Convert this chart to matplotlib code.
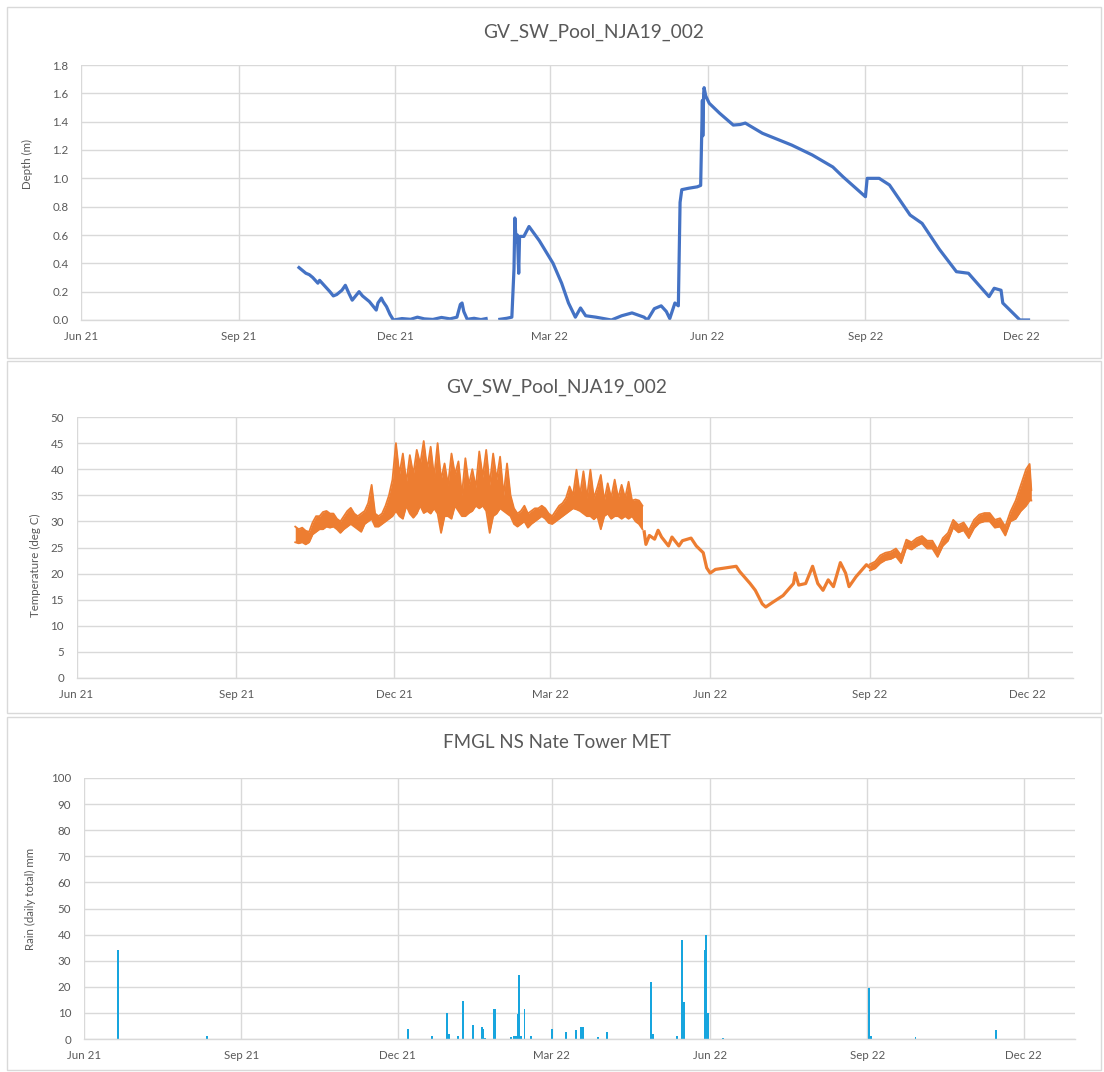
import matplotlib
matplotlib.use("Agg")
import matplotlib.pyplot as plt
import matplotlib.dates as mdates
from matplotlib.patches import Rectangle
from matplotlib.ticker import FuncFormatter
import numpy as np
import pandas as pd

plt.rcParams["font.family"] = ["Lato", "DejaVu Sans"]

# ---------------------------------------------------------------- data
pool_title = "GV_SW_Pool_NJA19_002"
rain_title = "FMGL NS Nate Tower MET"

# Pool depth (m)
depth_dates = [
    "2021-10-06", "2021-10-08", "2021-10-10", "2021-10-12", "2021-10-14", "2021-10-17",
    "2021-10-18", "2021-10-21", "2021-10-24", "2021-10-26", "2021-10-28", "2021-10-31",
    "2021-11-02", "2021-11-04", "2021-11-06", "2021-11-08", "2021-11-10", "2021-11-12",
    "2021-11-14", "2021-11-16", "2021-11-18", "2021-11-20", "2021-11-21", "2021-11-23",
    "2021-11-24", "2021-11-26", "2021-11-28", "2021-11-30", "2021-12-05", "2021-12-10",
    "2021-12-14", "2021-12-18", "2021-12-23", "2021-12-28", "2022-01-02", "2022-01-06",
    "2022-01-08", "2022-01-09", "2022-01-10", "2022-01-12", "2022-01-16", "2022-01-20",
    "2022-01-23", "2022-01-26", "2022-01-31", "2022-02-04", "2022-02-07",
    "2022-02-08 06:00", "2022-02-08 18:00", "2022-02-09 12:00", "2022-02-10 06:00",
    "2022-02-11 00:00", "2022-02-11 12:00", "2022-02-14", "2022-02-17", "2022-02-23",
    "2022-03-03", "2022-03-08", "2022-03-12", "2022-03-16", "2022-03-19", "2022-03-22",
    "2022-03-28", "2022-04-06", "2022-04-12", "2022-04-18", "2022-04-25", "2022-04-27",
    "2022-05-01", "2022-05-05", "2022-05-08", "2022-05-10", "2022-05-13", "2022-05-15",
    "2022-05-16", "2022-05-17", "2022-05-21", "2022-05-26", "2022-05-28",
    "2022-05-29 00:00", "2022-05-29 06:00", "2022-05-29 18:00", "2022-05-30",
    "2022-05-31", "2022-06-02", "2022-06-08", "2022-06-16", "2022-06-20", "2022-06-23",
    "2022-07-03", "2022-07-20", "2022-08-01", "2022-08-13", "2022-08-19", "2022-09-01",
    "2022-09-02", "2022-09-09", "2022-09-15", "2022-09-27", "2022-10-04", "2022-10-14",
    "2022-10-24", "2022-10-31", "2022-11-06", "2022-11-12", "2022-11-15", "2022-11-19",
    "2022-11-20", "2022-11-30", "2022-12-05",
]
depth_values = [
    0.37, 0.35, 0.33, 0.32, 0.30, 0.26,
    0.28, 0.24, 0.20, 0.17, 0.18, 0.21,
    0.245, 0.19, 0.14, 0.17, 0.20, 0.17,
    0.15, 0.13, 0.10, 0.07, 0.12, 0.155,
    0.13, 0.094, 0.04, 0.0, 0.01, 0.005,
    0.02, 0.008, 0.004, 0.018, 0.008, 0.02,
    0.11, 0.12, 0.06, 0.005, 0.012, 0.003,
    0.01, np.nan, 0.005, 0.012, 0.02,
    0.36, 0.72, 0.55, 0.60,
    0.33, 0.59, 0.59, 0.66, 0.56,
    0.40, 0.26, 0.12, 0.02, 0.085, 0.03,
    0.02, 0.0, 0.03, 0.05, 0.02, 0.0,
    0.08, 0.10, 0.06, 0.01, 0.12, 0.10,
    0.83, 0.92, 0.93, 0.94, 0.95,
    1.55, 1.30, 1.60, 1.64,
    1.58, 1.53, 1.46, 1.376, 1.38, 1.39,
    1.318, 1.235, 1.165, 1.08, 1.01, 0.87,
    1.0, 1.0, 0.953, 0.741, 0.682, 0.50,
    0.341, 0.33, 0.247, 0.165, 0.224, 0.21,
    0.12, 0.0, 0.0,
]

# Pool water temperature (deg C).
# Summer 2021-22: daily low / high every second day from 5 Oct 2021
temp_summer_start = "2021-10-05"
temp_summer_low = [
    26.0, 25.8, 26.0, 25.6, 26.0, 27.5, 28.0, 28.5, 28.5, 29.0, 28.8, 29.0, 28.5, 27.8,
    28.5, 29.0, 29.5, 29.0, 28.5, 28.0, 29.5, 30.0, 30.5, 29.0, 29.0, 29.5, 30.0, 30.5,
    31.0, 32.0, 31.0, 30.5, 33.0, 31.5, 30.7, 31.5, 33.0, 31.6, 32.0, 31.5, 32.5, 31.5,
    27.8, 31.0, 31.0, 30.5, 33.0, 32.0, 31.0, 31.0, 31.6, 32.0, 33.0, 32.5, 33.0, 32.0,
    27.8, 31.0, 31.5, 32.5, 32.0, 31.5, 31.0, 29.5, 29.0, 29.5, 30.0, 28.8, 29.5, 30.0,
    30.5, 31.0, 30.5, 29.7, 29.5, 30.0, 30.5, 31.0, 31.5, 32.0, 32.5, 32.3, 32.0, 31.5,
    31.0, 31.0, 30.4, 31.0, 28.5, 31.0, 31.5, 30.5, 31.0, 31.0, 30.5, 31.0, 30.5, 31.0,
    30.0, 29.5, 28.5,
]
temp_summer_high = [
    29.0, 28.5, 28.8, 28.2, 28.0, 29.8, 31.0, 31.0, 31.8, 32.0, 31.5, 31.5, 30.5, 30.0,
    31.0, 32.0, 32.6, 31.5, 31.0, 31.5, 32.0, 33.5, 37.0, 31.5, 31.0, 31.5, 33.0, 35.0,
    38.0, 45.0, 39.0, 43.0, 37.5, 42.7, 39.0, 43.7, 41.0, 45.4, 40.0, 44.3, 38.5, 45.0,
    38.0, 41.1, 37.0, 43.0, 39.0, 41.5, 35.0, 42.1, 37.0, 40.0, 36.5, 43.4, 38.5, 43.7,
    37.0, 43.0, 38.0, 42.4, 35.0, 41.1, 35.0, 32.5, 31.5, 32.0, 33.0, 31.5, 32.0, 32.5,
    32.5, 33.0, 32.5, 31.5, 31.0, 32.0, 33.0, 33.5, 34.5, 36.7, 35.0, 39.9, 35.0, 39.6,
    34.5, 39.9, 34.5, 36.5, 38.9, 34.0, 37.3, 34.5, 38.0, 34.5, 37.0, 34.5, 37.6, 34.0,
    34.2, 34.0, 33.0,
]

# Winter 2022: single trace
temp_winter_dates = [
    "2022-04-24", "2022-04-25", "2022-04-27", "2022-04-30", "2022-05-02", "2022-05-04",
    "2022-05-08", "2022-05-10", "2022-05-14", "2022-05-16", "2022-05-21", "2022-05-24",
    "2022-05-28", "2022-05-30", "2022-06-01", "2022-06-04", "2022-06-10", "2022-06-16",
    "2022-06-18", "2022-06-24", "2022-06-27", "2022-07-01", "2022-07-03", "2022-07-07",
    "2022-07-13", "2022-07-19", "2022-07-20", "2022-07-22", "2022-07-26", "2022-07-30",
    "2022-08-02", "2022-08-05", "2022-08-08", "2022-08-11", "2022-08-15", "2022-08-18",
    "2022-08-20", "2022-08-24", "2022-08-30", "2022-09-01",
]
temp_winter_values = [
    28.0, 25.6, 27.3, 26.6, 28.3, 27.0,
    25.3, 27.0, 25.3, 26.3, 26.8, 25.3,
    24.0, 21.1, 20.1, 20.8, 21.1, 21.4,
    20.4, 18.1, 16.8, 14.2, 13.6, 14.5,
    15.8, 18.1, 20.1, 17.8, 18.1, 21.4,
    18.1, 16.8, 18.8, 17.5, 22.1, 20.1,
    17.5, 19.4, 21.7, 21.2,
]

# Spring 2022: daily low / high every third day from 1 Sep 2022
temp_spring_start = "2022-09-01"
temp_spring_low = [
    20.6, 21.0, 22.0, 22.6, 22.8, 23.3, 22.0, 25.0, 24.6, 25.3, 25.8, 24.8,
    24.8, 23.2, 25.3, 26.3, 28.8, 27.9, 28.3, 26.8, 28.7, 29.7, 30.0, 30.0,
    28.8, 29.0, 27.3, 30.0, 30.5, 32.0, 33.0,
]
temp_spring_high = [
    21.8, 22.3, 23.5, 24.0, 24.2, 24.8, 23.5, 26.5, 26.0, 26.8, 27.2, 26.3,
    26.3, 24.6, 26.8, 27.8, 30.3, 29.3, 29.8, 28.3, 30.3, 31.3, 31.6, 31.6,
    30.3, 30.6, 29.0, 31.9, 34.0, 37.0, 40.0,
]
temp_final_dates = ["2022-12-02", "2022-12-03"]
temp_final_low = [34.0, 34.0]
temp_final_high = [41.0, 36.0]

# Daily rainfall totals (mm)
rain_dates = [
    "2021-06-21", "2021-08-12", "2021-12-07", "2021-12-21", "2021-12-30", "2021-12-31",
    "2022-01-05", "2022-01-08", "2022-01-14", "2022-01-19", "2022-01-20", "2022-01-21",
    "2022-01-26", "2022-01-27", "2022-02-05", "2022-02-07", "2022-02-08", "2022-02-09",
    "2022-02-10", "2022-02-11", "2022-02-13", "2022-02-17", "2022-03-01", "2022-03-09",
    "2022-03-15", "2022-03-18", "2022-03-19", "2022-03-28", "2022-04-02", "2022-04-28",
    "2022-04-29", "2022-05-13", "2022-05-16", "2022-05-17", "2022-05-29", "2022-05-30",
    "2022-05-31", "2022-06-09", "2022-09-02", "2022-09-03", "2022-09-29", "2022-11-15",
]
rain_mm = [
    34.0, 1.0, 4.0, 1.3, 10.0, 2.0,
    1.0, 14.7, 5.5, 4.5, 4.0, 0.5,
    11.5, 11.5, 0.9, 1.0, 1.0, 9.6,
    24.6, 1.0, 11.5, 1.0, 3.8, 2.6,
    3.4, 4.7, 4.5, 0.9, 2.6, 21.7,
    2.0, 1.0, 37.8, 14.0, 34.0, 39.8,
    10.0, 0.5, 19.4, 1.0, 0.8, 3.3,
]

quarter_ticks = ["2021-06-01", "2021-09-01", "2021-12-01", "2022-03-01",
                 "2022-06-01", "2022-09-01", "2022-12-01"]

# ---------------------------------------------------------------- styling
W, H = 1104, 1072
GRID = "#D9D9D9"
TEXT = "#595959"
BLUE = "#4472C4"
ORANGE = "#ED7D31"
RAIN = "#17A5DE"


def to_dt(values):
    return pd.to_datetime(values, format="ISO8601")


def rect(left, right, top, bottom):
    return [left / W, 1 - bottom / H, (right - left) / W, (bottom - top) / H]


def style_axes(ax, xmax, ymax, ystep, yfmt):
    ax.set_xlim(pd.Timestamp("2021-06-01"), pd.Timestamp(xmax))
    ax.set_ylim(0, ymax)
    ax.set_yticks(np.arange(0, ymax + ystep / 2, ystep))
    ax.yaxis.set_major_formatter(FuncFormatter(lambda v, p: yfmt.format(v)))
    ax.set_xticks(to_dt(quarter_ticks))
    ax.xaxis.set_major_formatter(mdates.DateFormatter("%b %y"))
    ax.grid(True, color=GRID, lw=1.0)
    ax.set_axisbelow(True)
    for side in ("left", "right", "top"):
        ax.spines[side].set_visible(False)
    ax.spines["bottom"].set_color(GRID)
    ax.spines["bottom"].set_linewidth(1.0)
    ax.tick_params(axis="both", length=0, labelsize=8.3, colors=TEXT)
    ax.tick_params(axis="y", pad=9)
    ax.tick_params(axis="x", pad=8)


def band(ax, dates, low, high):
    ax.fill_between(dates, low, high, color=ORANGE, lw=0)
    ax.plot(dates, low, color=ORANGE, lw=1.3)
    ax.plot(dates, high, color=ORANGE, lw=1.3)


fig = plt.figure(figsize=(W / 100, H / 100), dpi=100)

# chart-area borders
for top, bottom in ((7, 358), (361, 713), (717, 1070)):
    fig.add_artist(Rectangle((7 / W, 1 - bottom / H), 1094 / W, (bottom - top) / H,
                             transform=fig.transFigure, fill=False,
                             edgecolor=GRID, lw=1.0))

# --- depth
ax1 = fig.add_axes(rect(81, 1068, 65, 320))
ax1.plot(to_dt(depth_dates), depth_values, color=BLUE, lw=2.3,
         solid_joinstyle="round")
style_axes(ax1, "2022-12-28", 1.8, 0.2, "{:.1f}")
fig.text(594 / W, 1 - 32 / H, pool_title, ha="center", va="center",
         fontsize=13.8, color=TEXT)
fig.text(27 / W, 1 - 164 / H, "Depth (m)", rotation=90, ha="center", va="center",
         fontsize=8.3, color=TEXT)

# --- temperature
ax2 = fig.add_axes(rect(76.5, 1073, 417, 678))
summer_dates = pd.date_range(temp_summer_start, periods=len(temp_summer_low), freq="2D")
band(ax2, summer_dates, temp_summer_low, temp_summer_high)
ax2.plot(to_dt(temp_winter_dates), temp_winter_values, color=ORANGE, lw=2.3,
         solid_joinstyle="round")
spring_dates = pd.date_range(temp_spring_start, periods=len(temp_spring_low), freq="3D")
band(ax2, spring_dates.append(to_dt(temp_final_dates)),
     temp_spring_low + temp_final_low, temp_spring_high + temp_final_high)
style_axes(ax2, "2022-12-27", 50, 5, "{:.0f}")
fig.text(557 / W, 1 - 387 / H, pool_title, ha="center", va="center",
         fontsize=13.8, color=TEXT)
fig.text(35 / W, 1 - 565 / H, "Temperature (deg C)", rotation=90, ha="center",
         va="center", fontsize=8.3, color=TEXT)

# --- rainfall
ax3 = fig.add_axes(rect(83.7, 1075, 778, 1039))
ax3.bar(to_dt(rain_dates), rain_mm, width=1.1, color=RAIN, linewidth=0)
style_axes(ax3, "2022-12-31", 100, 10, "{:.0f}")
fig.text(557 / W, 1 - 743 / H, rain_title, ha="center", va="center",
         fontsize=13.5, color=TEXT)
fig.text(30 / W, 1 - 899 / H, "Rain (daily total) mm", rotation=90, ha="center",
         va="center", fontsize=8.3, color=TEXT)

fig.savefig("out.png", dpi=100, facecolor="white")
